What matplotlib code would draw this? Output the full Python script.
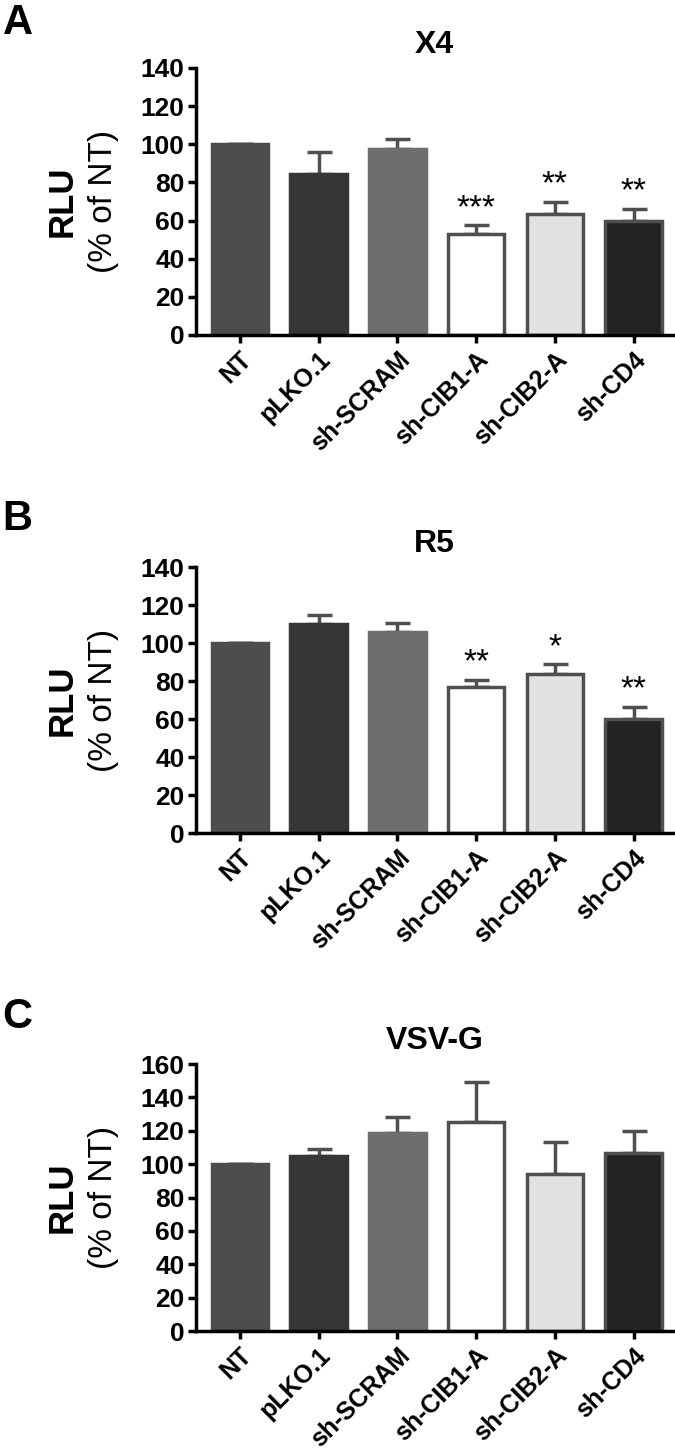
import matplotlib
matplotlib.use("Agg")
import matplotlib.pyplot as plt

# данные с графика
groups = ["NT", "pLKO.1", "sh-SCRAM", "sh-CIB1-A", "sh-CIB2-A", "sh-CD4"]
fills = ["#4d4d4d", "#363636", "#6e6e6e", "#ffffff", "#e2e2e2", "#232323"]
edges = ["#4d4d4d", "#363636", "#6e6e6e", "#4f4f4f", "#4f4f4f", "#4f4f4f"]

x4_vals = [100, 84.5, 97.5, 52.8, 63.2, 59.8]
x4_err = [0, 11.5, 5.0, 4.6, 6.6, 6.2]
x4_stars = ["", "", "", "***", "**", "**"]

r5_vals = [100, 110.2, 106.0, 76.8, 83.7, 60.0]
r5_err = [0, 4.6, 4.6, 3.7, 5.1, 6.5]
r5_stars = ["", "", "", "**", "*", "**"]

vsv_vals = [100, 104.9, 118.9, 125.4, 93.9, 106.9]
vsv_err = [0, 4.0, 9.5, 23.6, 19.1, 13.2]
vsv_stars = ["", "", "", "", "", ""]

panels = [
    ("A", "X4", x4_vals, x4_err, x4_stars, 140, [0.7693, 0.1839]),
    ("B", "R5", r5_vals, r5_err, r5_stars, 140, [0.4263, 0.1832]),
    ("C", "VSV-G", vsv_vals, vsv_err, vsv_stars, 160, [0.0833, 0.1839]),
]

arial = ["Liberation Sans", "DejaVu Sans"]

fig = plt.figure(figsize=(6.75, 14.52), dpi=100)

for letter, title, vals, err, stars, ymax, (bottom, height) in panels:
    ax = fig.add_axes([0.290, bottom, 0.707, height])
    xs = list(range(len(groups)))
    # только верхняя половина ошибки, как в GraphPad
    ax.errorbar(xs, vals, yerr=[[0] * len(err), err], fmt="none", ecolor="#4f4f4f",
                elinewidth=2.5, capsize=9, capthick=2.5, zorder=1)
    ax.bar(xs, vals, width=0.72, color=fills, edgecolor=edges, linewidth=2.5, zorder=2)
    for xi, v, e, s in zip(xs, vals, err, stars):
        if s:
            ax.annotate(s, (xi, v + e), xytext=(0, 1), textcoords="offset points",
                        ha="center", va="bottom", fontsize=24, family=arial)

    ax.set_xlim(-0.56, 5.5)
    ax.set_ylim(0, ymax)
    ax.set_yticks(range(0, ymax + 1, 20))
    ax.set_xticks(xs)
    ax.set_xticklabels(groups, rotation=45, ha="right", rotation_mode="anchor")
    for lab in ax.get_yticklabels():
        lab.set_family(arial)
        lab.set_fontweight("bold")
        lab.set_fontsize(19)
    for lab in ax.get_xticklabels():
        lab.set_family(arial)
        lab.set_fontweight("bold")
        lab.set_fontsize(18)
    ax.spines["top"].set_visible(False)
    ax.spines["right"].set_visible(False)
    ax.spines["left"].set_linewidth(2.5)
    ax.spines["bottom"].set_linewidth(2.5)
    ax.tick_params(width=2.5, length=6, direction="out", pad=2)
    ax.tick_params(axis="x", pad=3)
    ax.set_title(title, fontsize=23, fontweight="bold", family=arial, pad=11)

    cy = bottom + height / 2
    fig.text(0.092, cy, "RLU", rotation=90, ha="center", va="center",
             fontsize=25, fontweight="bold", family=arial)
    fig.text(0.153, cy, "(% of NT)", rotation=90, ha="center", va="center",
             fontsize=24, family=arial)
    fig.text(0.004, min(bottom + height + 0.0465, 0.998), letter,
             fontsize=30, fontweight="bold", family=arial, va="top")

fig.savefig("out.png", dpi=100)
